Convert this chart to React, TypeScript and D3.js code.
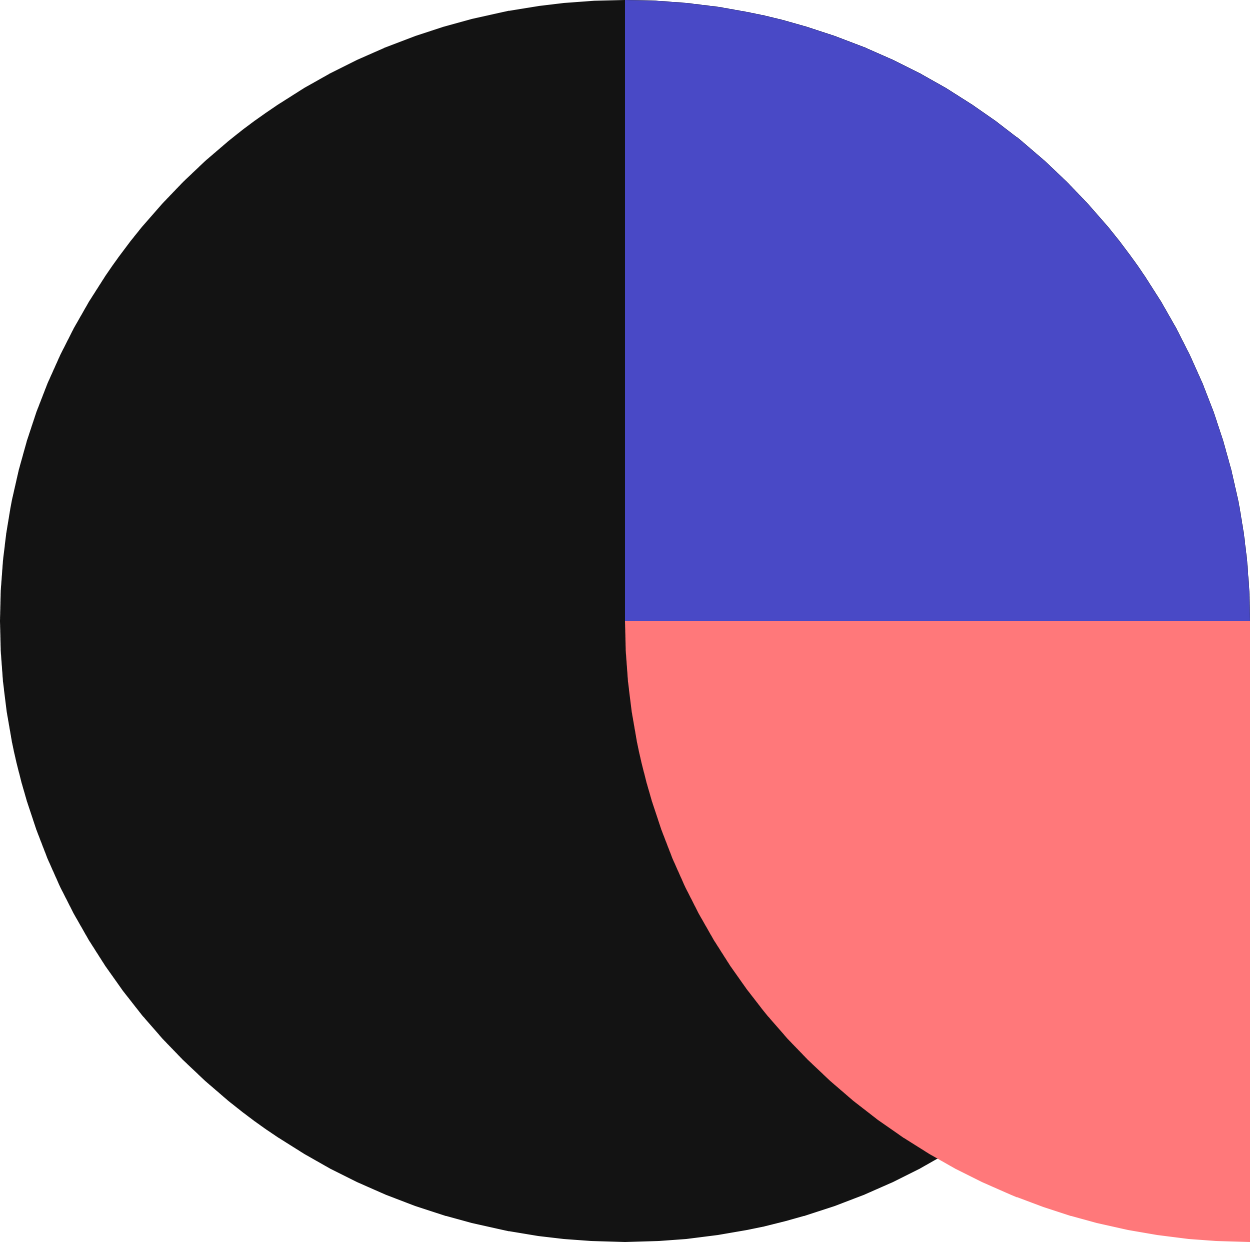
import { useMemo } from 'react';
import * as d3 from 'd3';

const W = 1250;
const H = 1242;

// shapes, in drawing order
const shapeNames = ['base', 'upper', 'lower'];
const shapeColors = ['#131313', '#4949C6', '#FF787A'];
// sweep of each shape as a fraction of a full turn
const shapeShares = [1, 0.25, 0.25];
// where each sweep starts, as a fraction of a full turn (0 = 12 o'clock)
const shapeStarts = [0, 0, 0.5];
// centre of each shape, in unit coords (-1..1)
const shapeCentersX = [0, 0, 1];
const shapeCentersY = [0, 0, 0];

export default function App() {
  const x = useMemo(() => d3.scaleLinear().domain([-1, 1]).range([0, W]), []);
  const y = useMemo(() => d3.scaleLinear().domain([-1, 1]).range([0, H]), []);

  const arc = d3.arc<{ start: number; end: number }>()
    .innerRadius(0)
    .outerRadius(1)
    .startAngle(d => d.start)
    .endAngle(d => d.end);

  const rx = x(1) - x(0);
  const ry = y(1) - y(0);

  return (
    <svg
      width={W}
      height={H}
      style={{ position: 'absolute', top: 0, left: 0, background: '#fff' }}
    >
      {shapeNames.map((name, i) => {
        const start = shapeStarts[i] * 2 * Math.PI;
        const end = start + shapeShares[i] * 2 * Math.PI;
        return (
          <path
            key={name}
            d={arc({ start, end }) ?? ''}
            fill={shapeColors[i]}
            transform={`translate(${x(shapeCentersX[i])},${y(shapeCentersY[i])}) scale(${rx},${ry})`}
          />
        );
      })}
    </svg>
  );
}
